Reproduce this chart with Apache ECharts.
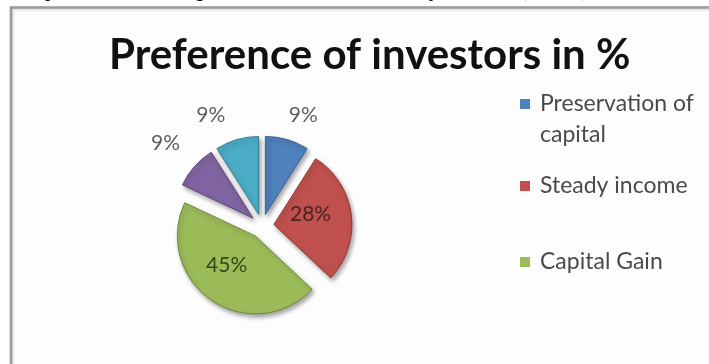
<!DOCTYPE html>
<html>
<head>
<meta charset="utf-8">
<script src="https://cdn.jsdelivr.net/npm/echarts@6/dist/echarts.min.js"></script>
<style>
  html, body { margin: 0; padding: 0; background: #ffffff; }
  #chart { width: 709px; height: 364px; }
</style>
</head>
<body>
<div id="chart"></div>
<script>
// Investor preference shares (in %)
const categories = ['Preservation of capital', 'Steady income', 'Capital Gain', 'Tax benefit', 'Liquidity'];
const shares = [9, 28, 45, 9, 9];
const sliceColors = ['#4F81BD', '#C0504D', '#9BBB59', '#8064A2', '#4BACC6'];
const edgeColors = ['#3b6293', '#8e3a38', '#6f8a3c', '#5c4778', '#35849a'];
const insideLabelColors = { 'Steady income': '#4a2322', 'Capital Gain': '#36451c' };

const chartTitle = 'Preference of investors in %';
const caption = 'Graph 4.5 Chart Showing the Preference of Investors Objective Wise (Percent)';

const pieData = categories.map((name, i) => {
  const item = {
    name: name,
    value: shares[i],
    selected: true,
    itemStyle: { color: sliceColors[i], borderColor: edgeColors[i] }
  };
  if (insideLabelColors[name]) {
    item.label = { position: 'inside', color: insideLabelColors[name] };
  }
  return item;
});

const legendFont = { fontFamily: 'Lato', fontSize: 23, color: '#4a4a4a', lineHeight: 31, padding: [0, 0, 0, 5] };
function legendBlock(name, left, top, text) {
  return {
    data: [name],
    orient: 'vertical',
    left: left,
    top: top,
    padding: 0,
    selectedMode: false,
    icon: 'rect',
    itemWidth: 10,
    itemHeight: 10,
    itemStyle: { borderWidth: 0, shadowBlur: 0, shadowOffsetX: 0, shadowOffsetY: 0 },
    formatter: () => text,
    textStyle: legendFont
  };
}

const chart = echarts.init(document.getElementById('chart'), null, { renderer: 'canvas' });
chart.setOption({
  animation: false,
  backgroundColor: '#ffffff',
  graphic: [
    {
      type: 'rect', z: -10, silent: true,
      shape: { x: 11, y: 7.5, width: 760, height: 420 },
      style: { fill: '#fdfdfd', stroke: '#9a9a9a', lineWidth: 2.5,
               shadowColor: 'rgba(0,0,0,0.18)', shadowBlur: 3, shadowOffsetX: 1, shadowOffsetY: 1 }
    },
    {
      type: 'text', z: -5, silent: true,
      x: 16, y: 1,
      style: { text: caption, font: 'bold 17px "Liberation Serif"', fill: '#000000', verticalAlign: 'bottom' }
    }
  ],
  title: {
    text: chartTitle,
    left: 109,
    top: 34,
    padding: 0,
    textStyle: { fontFamily: 'Lato', fontWeight: 'bold', fontSize: 42, color: '#111111' }
  },
  legend: [
    // leading blank line keeps the first text line level with the swatch
    legendBlock('Preservation of capital', 520, 57.5, '\nPreservation of\ncapital'),
    legendBlock('Steady income', 520, 170.5, 'Steady income'),
    legendBlock('Capital Gain', 520, 246.5, 'Capital Gain')
  ],
  series: [{
    type: 'pie',
    center: [262, 226],
    radius: 78,
    startAngle: 90,
    clockwise: true,
    selectedMode: 'multiple',
    selectedOffset: 12,
    avoidLabelOverlap: false,
    silent: true,
    itemStyle: {
      borderWidth: 1,
      shadowColor: 'rgba(0,0,0,0.35)',
      shadowBlur: 4,
      shadowOffsetX: 2,
      shadowOffsetY: 3
    },
    select: { itemStyle: {} },
    label: {
      show: true,
      position: 'outside',
      formatter: '{c}%',
      fontFamily: 'Lato',
      fontSize: 21,
      color: '#5f5f5f'
    },
    labelLine: { show: false, length: 6, length2: 0 },
    labelLayout: function (params) {
      return shares[params.dataIndex] < 20 ? { dx: -5, dy: -19 } : { dx: -5, dy: -5 };
    },
    data: pieData
  }]
});
</script>
</body>
</html>
